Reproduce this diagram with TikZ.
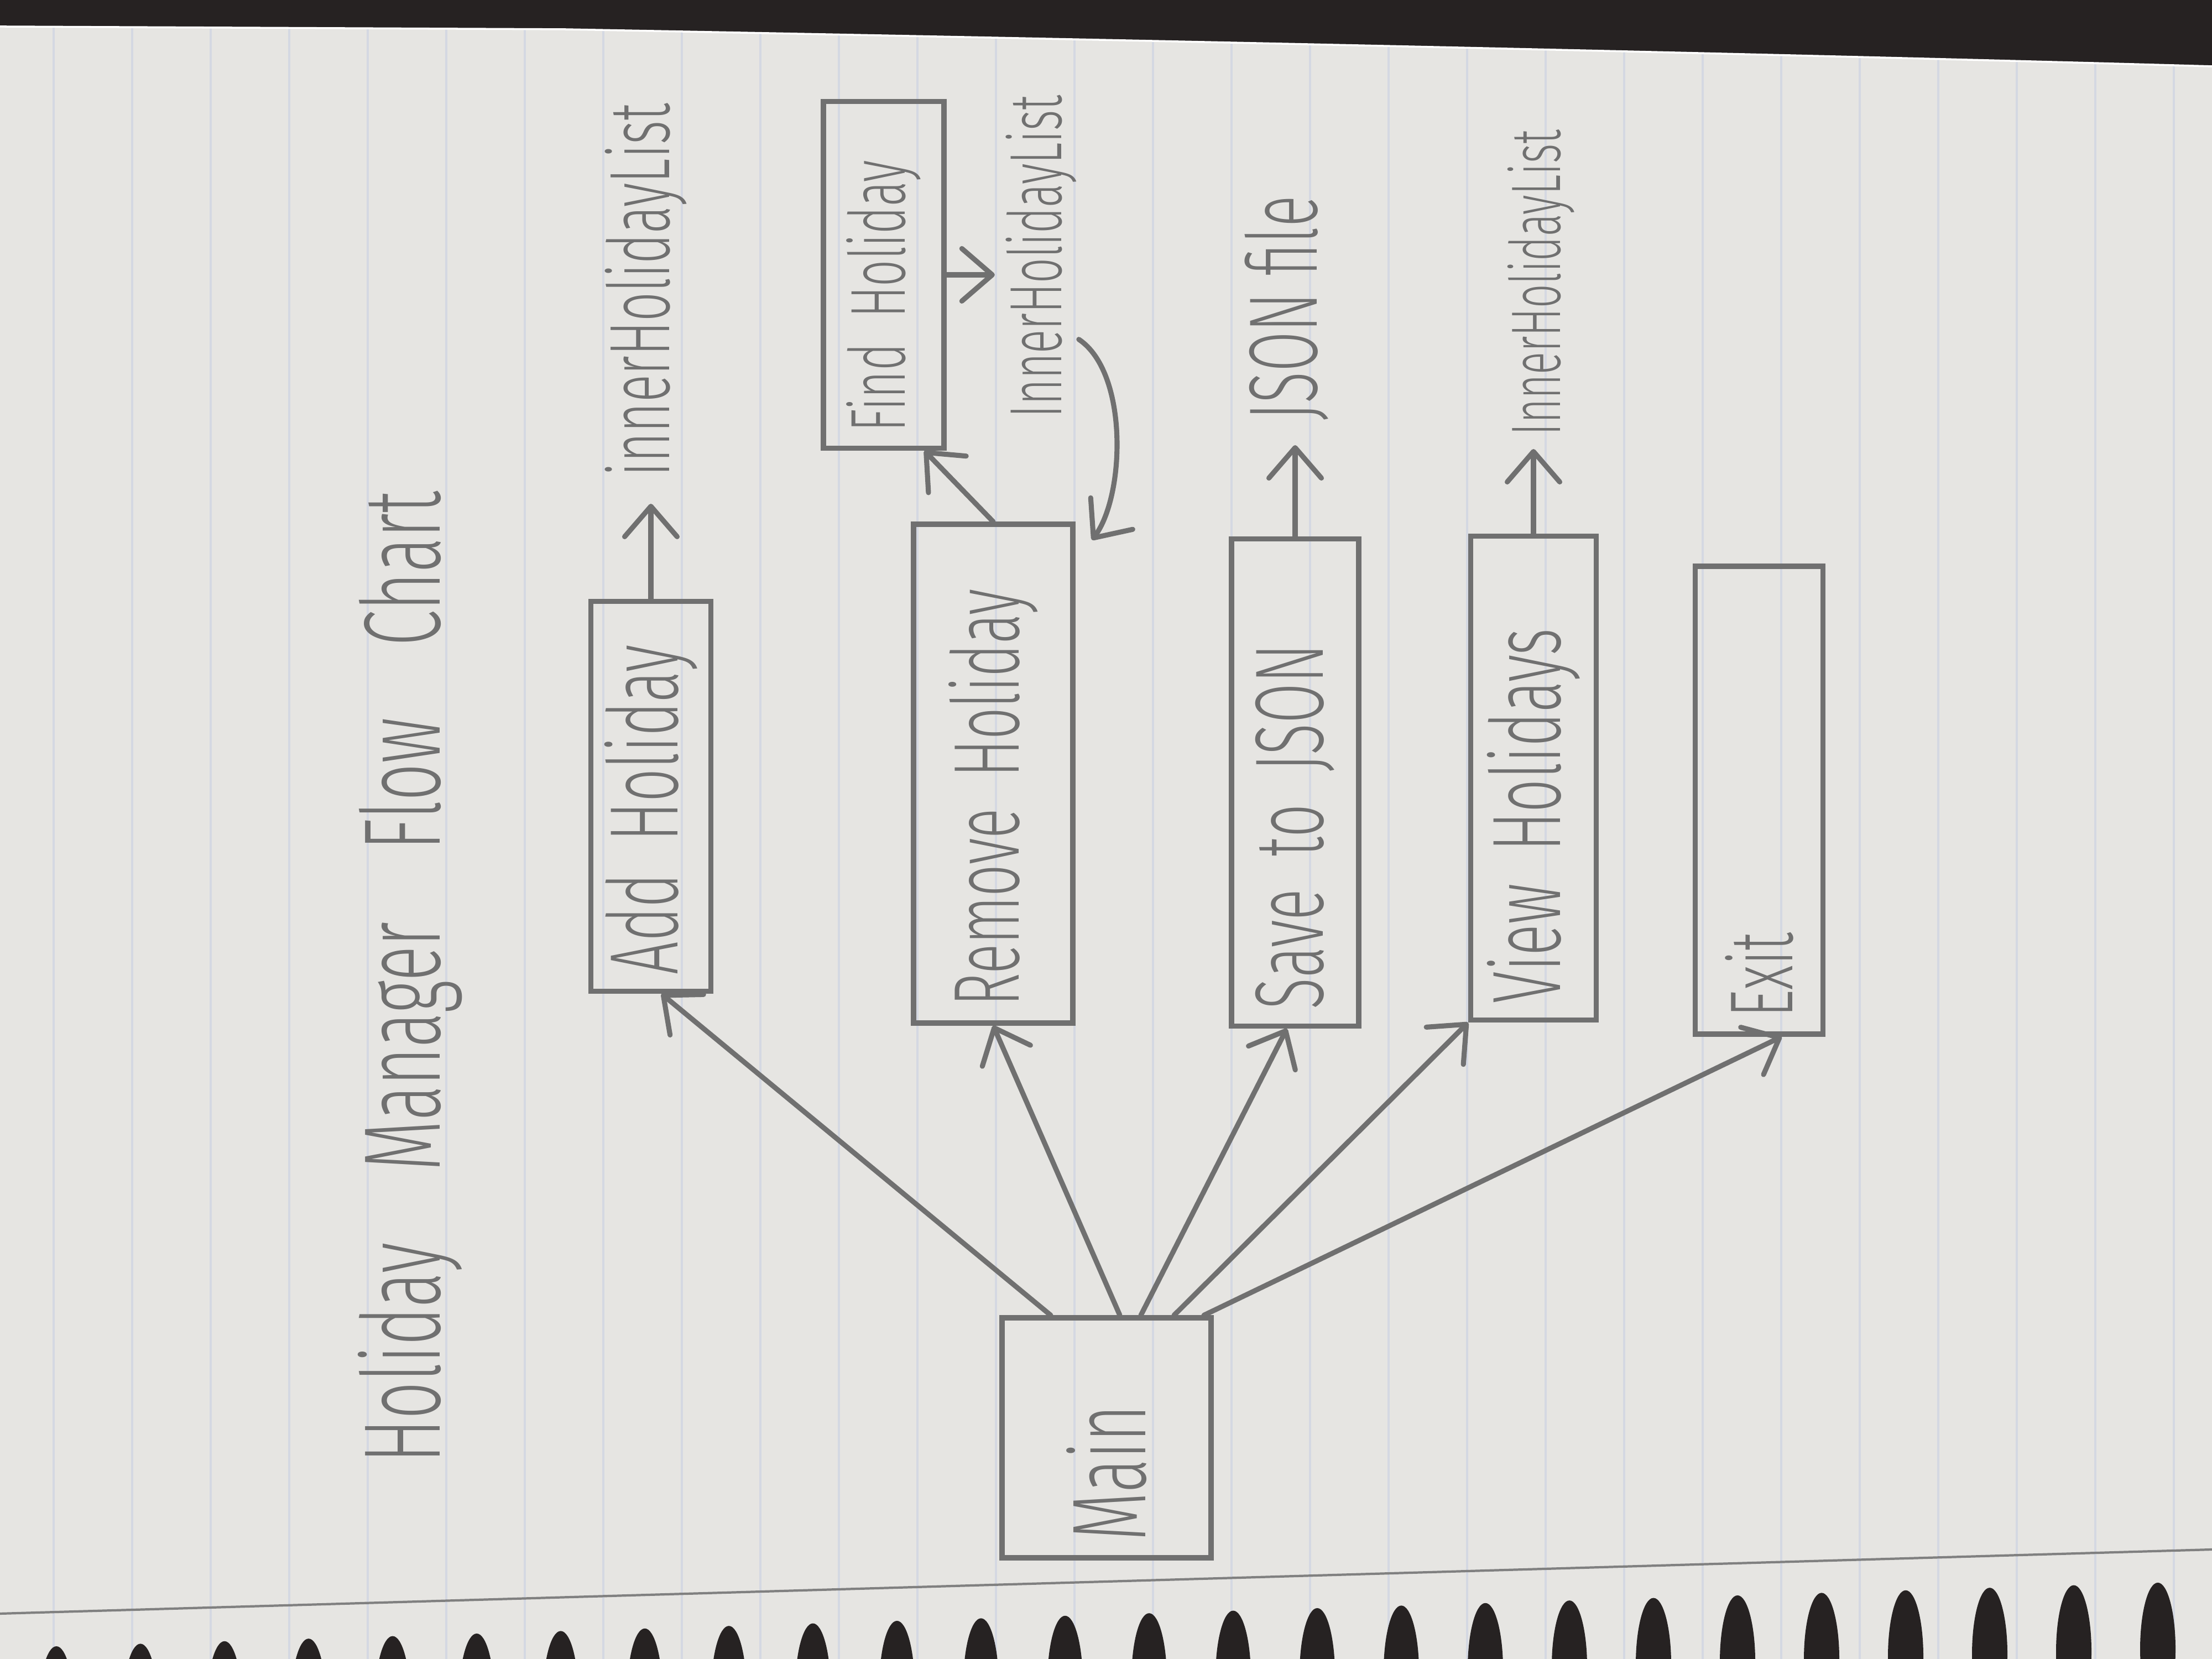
\documentclass[tikz,border=0pt]{standalone}
\usepackage{fontspec}
\usetikzlibrary{positioning,arrows.meta}
\usepackage{xcolor}
\newfontfamily\hand{Fira Sans Light}[FakeStretch=0.6]
\newcommand{\handsize}[1]{\hand\fontsize{#1}{#1}\selectfont}
\definecolor{pencil}{RGB}{112,112,112}
\definecolor{paper}{RGB}{230,229,226}
\definecolor{ruling}{RGB}{212,216,226}
\definecolor{shadow}{RGB}{38,34,34}

\begin{document}
\begin{tikzpicture}[>={Straight Barb[length=5.5mm,width=9.5mm,round]}, line width=2.6pt, line cap=round, color=pencil]
	% paper, ruling, binding
	\useasboundingbox (0,0) rectangle (40,30);
	\fill[paper] (0,0) rectangle (40,30);
	\foreach \x in {0,...,27} \draw[ruling, line width=1pt] (0.97+1.42*\x,0) -- (0.97+1.42*\x,30);
	\fill[shadow] (0,30) -- (40,30) -- (40,28.80) .. controls (33,29.00) and (22,29.25) .. (10.2,29.47) -- (0,29.52) -- cycle;
	\draw[white, line width=1pt] (40,28.80) .. controls (33,29.00) and (22,29.25) .. (10.2,29.47) -- (0,29.52);
	\draw[gray, line width=1.2pt] (0,0.82) -- (40,1.98);
	\begin{scope}
		\clip (0,0) rectangle (40,30);
		\foreach \k in {0,...,25} \fill[shadow] (1.02+1.52*\k,-0.97+0.046*\k) ellipse (0.32 and 1.2);
	\end{scope}

	\tikzstyle{every node}=[rotate=90, draw, color=pencil, line width=2.6pt, inner xsep=3mm, inner ysep=0pt, align=left, font=\handsize{48pt}]
	\draw (20.01,4.00) node (main) [text width=3.74cm, minimum height=3.78cm, font=\handsize{54pt}] {Main};
	\draw (11.77,15.60) node (add) [text width=6.45cm, minimum height=2.17cm, font=\handsize{50pt}] {Add Holiday};
	\draw (17.96,16.01) node (remove) [text width=8.42cm, minimum height=2.88cm] {Remove Holiday};
	\draw (23.42,15.85) node (save) [text width=8.21cm, minimum height=2.30cm, font=\handsize{50pt}] {Save to JSON};
	\draw (27.73,15.93) node (view) [text width=8.15cm, minimum height=2.27cm, font=\handsize{50pt}] {View Holidays};
	\draw (31.81,15.53) node (exit) [text width=7.86cm, minimum height=2.31cm, font=\handsize{46pt}] {Exit};
	\draw (15.98,25.03) node (find) [text width=5.67cm, minimum height=2.18cm, font=\handsize{40pt}] {Find Holiday};

	\tikzstyle{every node}=[rotate=90, color=pencil, inner sep=0pt, anchor=base west, font=\handsize{44pt}]
	\draw (7.95,3.50) node (title) [font=\handsize{56pt}] {\spaceskip=1.3cm Holiday Manager Flow Chart};
	\draw (12.10,21.34) node (innerA) {innerHolidayList};
	\draw (19.19,22.40) node (innerB) [font=\handsize{38pt}] {InnerHolidayList};
	\draw (23.81,22.35) node (jsonfile) [font=\handsize{50pt}] {JSON file};
	\draw (28.21,22.08) node (innerC) [font=\handsize{36pt}] {InnerHolidayList};

	\tikzstyle{every node}=[]
	\draw [->] ([xshift=-10.1mm]main.east) to ([xshift=1.9mm]add.west);
	\draw [->] ([xshift=2.4mm]main.east) to (remove.west);
	\draw [->] ([xshift=6.2mm]main.east) to ([xshift=-1.5mm]save.west);
	\draw [->] ([xshift=12.2mm]main.east) to (view.north west);
	\draw [->] ([xshift=17.6mm]main.east) to ([xshift=4.1mm]exit.west);

	\draw [->, shorten >=4.5mm] (add.east) to (add.east |- innerA.west);
	\draw [->, shorten >=4mm] (save.east) to (save.east |- jsonfile.west);
	\draw [->, shorten >=2mm] (view.east) to (view.east |- innerC.west);
	\draw [->] (remove.east) to ([xshift=-4mm]find.south west);
	\draw [->, shorten >=1.5mm] (find.south) to (find.south -| innerB.north);
	\draw [->] ([yshift=-1.5cm]innerB.south) .. controls +(0.9,-0.6) and +(0.6,0.8) .. ([xshift=3mm,yshift=-3.3mm]remove.south east);
\end{tikzpicture}
\end{document}
